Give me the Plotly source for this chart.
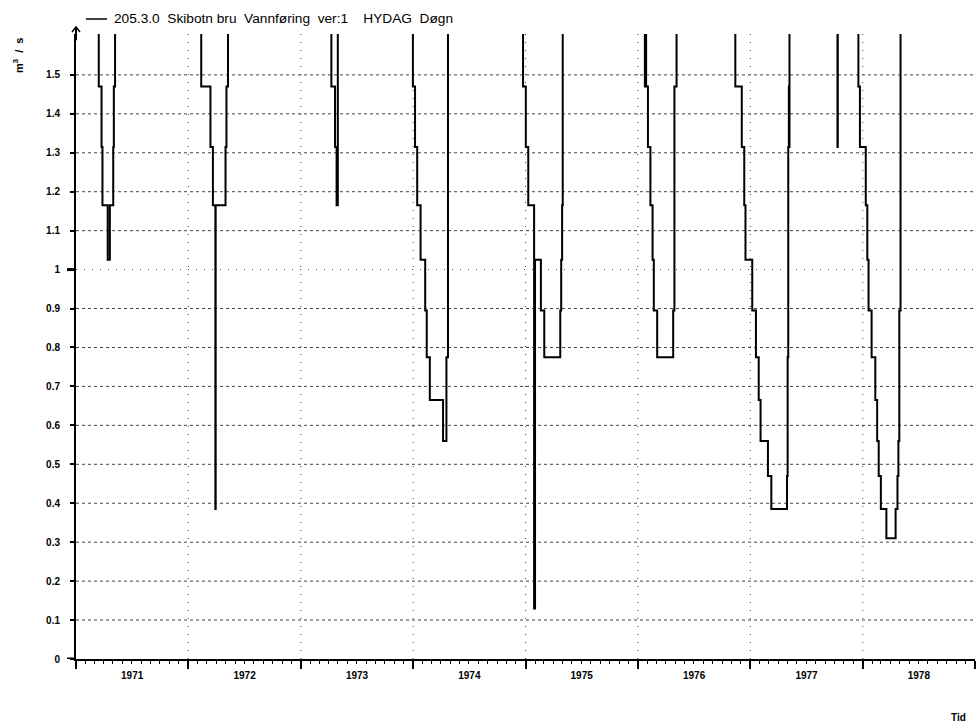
import plotly.graph_objects as go

# Off-scale (above axis top) discharge, value estimated; drawn clipped at the top
HIGH = 2.4

# Step change points of daily discharge (m3/s), one list pair per low-flow winter
start_t = ["1971-01-01"]
start_q = [HIGH]

w1971_t = ["1971-03-16", "1971-03-25", "1971-03-28", "1971-04-14", "1971-04-21",
           "1971-05-02", "1971-05-04", "1971-05-08"]
w1971_q = [1.47, 1.315, 1.165, 1.025, 1.165, 1.315, 1.47, HIGH]

w1972_t = ["1972-02-12", "1972-03-13", "1972-03-21", "1972-03-29", "1972-03-30",
           "1972-05-01", "1972-05-04", "1972-05-09"]
w1972_q = [1.47, 1.315, 1.165, 0.385, 1.165, 1.315, 1.47, HIGH]

w1973_t = ["1973-04-10", "1973-04-22", "1973-04-27", "1973-05-01"]
w1973_q = [1.47, 1.315, 1.165, HIGH]

w1974_t = ["1973-12-31", "1974-01-07", "1974-01-14", "1974-01-25", "1974-02-09",
           "1974-02-14", "1974-02-24", "1974-04-08", "1974-04-19", "1974-04-24"]
w1974_q = [1.47, 1.315, 1.165, 1.025, 0.895, 0.775, 0.665, 0.56, 0.775, HIGH]

w1975_t = ["1974-12-24", "1975-01-02", "1975-01-10", "1975-01-29", "1975-02-01",
           "1975-02-20", "1975-03-03", "1975-04-24", "1975-04-27", "1975-04-30",
           "1975-05-02"]
w1975_q = [1.47, 1.315, 1.165, 0.13, 1.025, 0.895, 0.775, 0.895, 1.025, 1.165, HIGH]

w1976_t = ["1976-01-24", "1976-01-26", "1976-01-28", "1976-02-03", "1976-02-11",
           "1976-02-18", "1976-02-22", "1976-03-04", "1976-04-25", "1976-04-29",
           "1976-05-06"]
w1976_q = [1.47, HIGH, 1.47, 1.315, 1.165, 1.025, 0.895, 0.775, 0.895, 1.47, HIGH]

w1977_t = ["1976-11-13", "1976-12-04", "1976-12-12", "1976-12-16", "1977-01-07",
           "1977-01-19", "1977-01-28", "1977-02-03", "1977-02-27", "1977-03-10",
           "1977-04-30", "1977-05-02", "1977-05-04", "1977-05-06", "1977-05-07",
           "1977-05-08", "1977-10-11", "1977-10-12"]
w1977_q = [1.47, 1.315, 1.165, 1.025, 0.895, 0.775, 0.665, 0.56, 0.47, 0.385,
           0.47, 0.775, 1.315, 1.47, 1.315, HIGH, 1.315, HIGH]

w1978_t = ["1977-12-18", "1977-12-23", "1978-01-11", "1978-01-16", "1978-01-20",
           "1978-01-30", "1978-02-11", "1978-02-17", "1978-02-22", "1978-03-01",
           "1978-03-19", "1978-04-18", "1978-04-24", "1978-04-27", "1978-04-30",
           "1978-05-04"]
w1978_q = [1.47, 1.315, 1.165, 1.025, 0.895, 0.775, 0.665, 0.56, 0.47, 0.385,
           0.31, 0.385, 0.47, 0.56, 0.895, HIGH]

end_t = ["1978-12-31"]
end_q = [HIGH]

y_ticks = [0, 0.1, 0.2, 0.3, 0.4, 0.5, 0.6, 0.7, 0.8, 0.9, 1, 1.1, 1.2, 1.3, 1.4, 1.5]
y_ticktext = ["0", "0.1", "0.2", "0.3", "0.4", "0.5", "0.6", "0.7", "0.8", "0.9",
              "1", "1.1", "1.2", "1.3", "1.4", "1.5"]
year_lines = ["1972-01-01", "1973-01-01", "1974-01-01", "1975-01-01",
              "1976-01-01", "1977-01-01", "1978-01-01"]

series_name = "205.3.0  Skibotn bru  Vannføring  ver:1    HYDAG  Døgn"
unit_label = "m<sup>3</sup>\u00a0\u00a0/\u00a0\u00a0s"

t = start_t + w1971_t + w1972_t + w1973_t + w1974_t + w1975_t + w1976_t + w1977_t + w1978_t + end_t
q = start_q + w1971_q + w1972_q + w1973_q + w1974_q + w1975_q + w1976_q + w1977_q + w1978_q + end_q

W, H = 976, 728
ML, MR, MT, MB = 76, 1, 34, 69
PW = W - ML - MR
PH = H - MT - MB

FONT = "Liberation Sans, Arial, sans-serif"

fig = go.Figure()
fig.add_trace(go.Scatter(x=t, y=q, mode="lines", line=dict(color="black", width=2, shape="hv"),
                         name=series_name, showlegend=False, hoverinfo="skip"))

shapes = []
# horizontal grid
for v in y_ticks[1:]:
    dash = "1px,7px" if v == 1 else "3px,3px"
    shapes.append(dict(type="line", xref="paper", yref="y", x0=0, x1=1, y0=v, y1=v,
                       line=dict(color="#444444", width=1, dash=dash), layer="below"))
# vertical grid at year boundaries
for d in year_lines:
    shapes.append(dict(type="line", xref="x", yref="paper", x0=d, x1=d, y0=0, y1=1,
                       line=dict(color="#444444", width=1, dash="1px,7px"), layer="below"))
# long ticks at 0 and 1
for v in (0, 1):
    shapes.append(dict(type="line", xref="paper", yref="y", x0=-9 / PW, x1=0, y0=v, y1=v,
                       line=dict(color="black", width=3)))
# y axis extension + arrow head
shapes.append(dict(type="line", xref="paper", yref="paper", x0=0, x1=0, y0=0.99, y1=1 + 7 / PH,
                   line=dict(color="black", width=2)))
shapes.append(dict(type="path", xref="paper", yref="paper",
                   path=f"M {-4/PW},{1+2/PH} L 0,{1+7/PH} L {4/PW},{1+2/PH}",
                   line=dict(color="black", width=1.5)))
# legend line sample
shapes.append(dict(type="line", xref="paper", yref="paper", x0=10 / PW, x1=31 / PW,
                   y0=1 + 15 / PH, y1=1 + 15 / PH, line=dict(color="black", width=1.5)))

annotations = [
    dict(text=series_name, xref="paper", yref="paper", x=36 / PW, y=1 + 15 / PH,
         xanchor="left", yanchor="middle", showarrow=False,
         font=dict(family=FONT, size=13.7, color="black")),
    dict(text=unit_label, xref="paper", yref="paper", x=(18 - ML) / PW, y=1 - 22 / PH,
         xanchor="center", yanchor="middle", showarrow=False, textangle=-90,
         font=dict(family=FONT, size=11, color="black", weight="bold")),
    dict(text="Tid", xref="paper", yref="paper", x=(958 - ML) / PW, y=-(717 - (H - MB)) / PH,
         xanchor="center", yanchor="middle", showarrow=False,
         font=dict(family=FONT, size=10, color="black", weight="bold")),
]

fig.update_layout(
    width=W, height=H,
    margin=dict(l=ML, r=MR, t=MT, b=MB, pad=0),
    paper_bgcolor="white", plot_bgcolor="white",
    showlegend=False,
    shapes=shapes, annotations=annotations,
    xaxis=dict(type="date", range=["1971-01-01", "1979-01-01"],
               tick0="1971-01-01", dtick="M12", tickformat="%Y", ticklabelmode="period",
               ticks="outside", ticklen=8, tickwidth=2, tickcolor="black",
               ticklabelstandoff=-2,
               showline=True, linecolor="black", linewidth=2,
               showgrid=False, zeroline=False,
               minor=dict(dtick="M1", ticks="outside", ticklen=3, tickwidth=1,
                          tickcolor="black", showgrid=False),
               tickfont=dict(family=FONT, size=10, color="black", weight="bold")),
    yaxis=dict(range=[0, 1.605], tickvals=y_ticks, ticktext=y_ticktext,
               ticks="outside", ticklen=4, tickwidth=2, tickcolor="black",
               ticklabelstandoff=8,
               showline=True, linecolor="black", linewidth=2,
               showgrid=False, zeroline=False,
               tickfont=dict(family=FONT, size=10, color="black", weight="bold")),
)

fig.write_html("out.html", config={"displayModeBar": False},
               post_script="document.body.style.margin='0';document.body.style.padding='0';")
